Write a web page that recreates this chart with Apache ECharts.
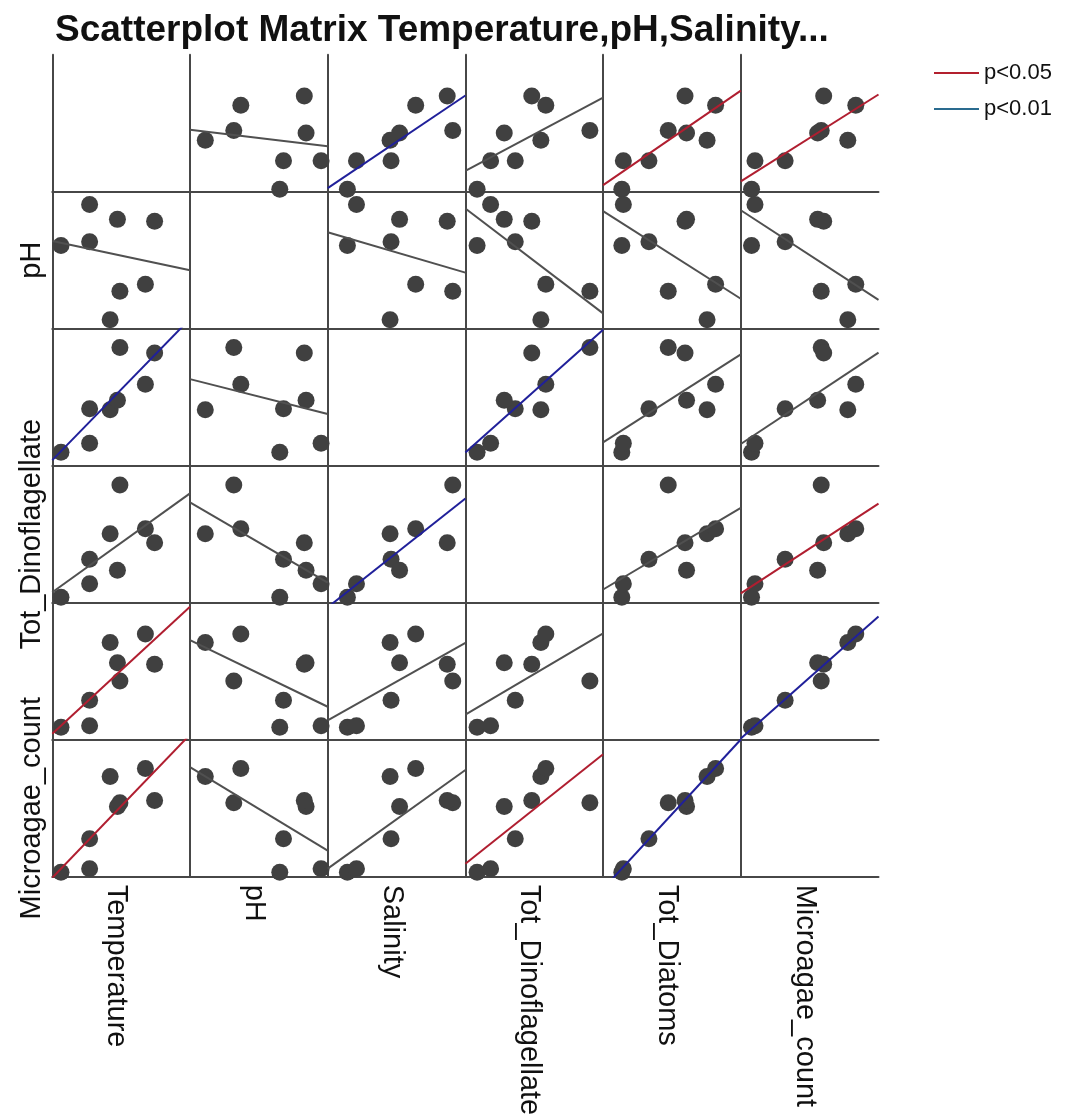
<!DOCTYPE html>
<html>
<head>
<meta charset="utf-8">
<title>Scatterplot Matrix</title>
<script src="https://cdn.jsdelivr.net/npm/echarts@6/dist/echarts.min.js"></script>
<style>
  html, body { margin: 0; padding: 0; background: #fff; }
  #chart { width: 1083px; height: 1120px; }
</style>
</head>
<body>
<div id="chart"></div>
<script>
// variables in matrix order (rows top->bottom, columns left->right)
const variables = ['Temperature', 'pH', 'Salinity', 'Tot_Dinoflagellate', 'Tot_Diatoms', 'Microagae_count']

// 8 samples (relative units, share of the panel span)
const temperature = [1.8, 22.6, 22.6, 37.5, 42.8, 44.6, 63.1, 69.8]
const ph = [60.7, 90.7, 63.4, 6.6, 79.8, 27.3, 32.4, 78.5]
const salinity = [9.8, 16.4, 41.5, 40.8, 47.7, 86.3, 59.4, 82.3]
const dinoflagellate = [4.0, 13.8, 31.7, 50.3, 23.7, 85.9, 53.9, 43.7]
const diatoms = [9.1, 10.2, 28.8, 71.0, 56.1, 42.8, 77.2, 55.0]
const microalgae = [3.3, 5.8, 27.7, 73.2, 51.3, 53.9, 79.0, 55.7]

// pairs whose fit line is flagged as significant
const pairsP05 = [[0, 4], [0, 5], [3, 5]]
const pairsP01 = [[0, 2], [2, 3], [4, 5]]

// only every other row carries a label in the original
const rowLabels = ['', 'pH', '', 'Tot_Dinoflagellate', '', 'Microagae_count']

const columns = [temperature, ph, salinity, dinoflagellate, diatoms, microalgae]
const xRange = [-4.5, 95.5]
const yRange = [0, 100]

const FONT = '"Liberation Sans", Arial, sans-serif'
const colors = { gray: '#505050', p05: '#b01e30', p01: '#20209a' }

function fit(xs, ys) {
  const n = xs.length
  const mx = xs.reduce((a, b) => a + b, 0) / n
  const my = ys.reduce((a, b) => a + b, 0) / n
  let sxy = 0
  let sxx = 0
  for (let i = 0; i < n; i++) {
    sxy += (xs[i] - mx) * (ys[i] - my)
    sxx += (xs[i] - mx) * (xs[i] - mx)
  }
  const b = sxy / sxx
  return [my - b * mx, b]
}

function significance(i, j) {
  const has = list => list.some(p => (p[0] === i && p[1] === j) || (p[0] === j && p[1] === i))
  if (has(pairsP01)) return 'p<0.01'
  if (has(pairsP05)) return 'p<0.05'
  return 'fit'
}

const left0 = 52.3
const top0 = 54.7
const cellW = 137.7
const cellH = 137

const grid = []
const xAxis = []
const yAxis = []
const series = []

const lineAxis = {
  show: true,
  onZero: false,
  lineStyle: { color: '#474747', width: 2 }
}

for (let r = 0; r < 6; r++) {
  for (let c = 0; c < 6; c++) {
    const idx = r * 6 + c
    grid.push({
      left: left0 + c * cellW,
      top: top0 + r * cellH,
      width: cellW,
      height: cellH,
      outerBoundsMode: 'none'
    })
    xAxis.push({
      gridIndex: idx,
      type: 'value',
      min: xRange[0],
      max: xRange[1],
      axisLine: lineAxis,
      axisTick: { show: false },
      axisLabel: { show: false },
      splitLine: { show: false },
      name: r === 5 ? variables[c] : '',
      nameLocation: 'middle',
      nameRotate: -90,
      nameGap: 8,
      // nudge the rotated names a little left of the column centre
      nameTextStyle: { fontFamily: FONT, fontSize: 29, color: '#111', verticalAlign: 'top', lineHeight: 10 }
    })
    yAxis.push({
      gridIndex: idx,
      type: 'value',
      min: yRange[0],
      max: yRange[1],
      axisLine: lineAxis,
      axisTick: { show: false },
      axisLabel: { show: false },
      splitLine: { show: false },
      name: c === 0 ? rowLabels[r] : '',
      nameLocation: 'middle',
      nameRotate: 90,
      nameGap: 6,
      nameTextStyle: { fontFamily: FONT, fontSize: 29, color: '#111' }
    })

    if (r === c) continue

    const xs = columns[c]
    const ys = columns[r]
    series.push({
      type: 'scatter',
      xAxisIndex: idx,
      yAxisIndex: idx,
      data: xs.map((v, i) => [v, ys[i]]),
      symbol: 'circle',
      symbolSize: 17,
      itemStyle: { color: '#404040', opacity: 1 },
      clip: false,
      silent: true,
      z: 2
    })

    const [a, b] = fit(xs, ys)
    const sig = significance(r, c)
    const color = sig === 'p<0.01' ? colors.p01 : sig === 'p<0.05' ? colors.p05 : colors.gray
    series.push({
      type: 'line',
      name: sig,
      xAxisIndex: idx,
      yAxisIndex: idx,
      data: [[xRange[0], a + b * xRange[0]], [xRange[1], a + b * xRange[1]]],
      showSymbol: false,
      clip: true,
      silent: true,
      itemStyle: { color: color },
      lineStyle: { color: color, width: 2 },
      z: 3
    })
  }
}

const chart = echarts.init(document.getElementById('chart'))
chart.setOption({
  backgroundColor: '#fff',
  animation: false,
  title: {
    text: 'Scatterplot Matrix Temperature,pH,Salinity...',
    left: 50,
    top: 7,
    textStyle: { fontFamily: FONT, fontSize: 37, fontWeight: 'bold', color: '#111' }
  },
  legend: {
    orient: 'vertical',
    left: 929,
    top: 57,
    icon: 'rect',
    itemWidth: 45,
    itemHeight: 2,
    itemGap: 14,
    textStyle: { fontFamily: FONT, fontSize: 22, color: '#111' },
    data: [
      { name: 'p<0.05', itemStyle: { color: '#b3202e' } },
      { name: 'p<0.01', itemStyle: { color: '#2a6b8f' } }
    ]
  },
  grid: grid,
  xAxis: xAxis,
  yAxis: yAxis,
  series: series
})
</script>
</body>
</html>
